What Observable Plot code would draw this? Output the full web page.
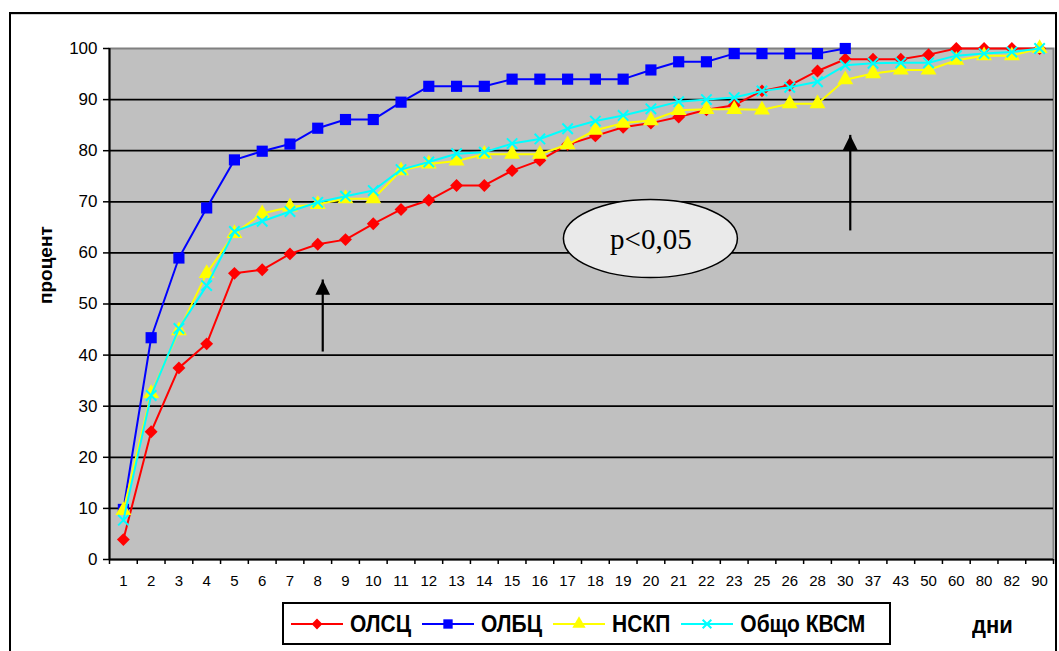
<!DOCTYPE html>
<html>
<head>
<meta charset="utf-8">
<script src="https://cdn.jsdelivr.net/npm/d3@7"></script>
<script src="https://cdn.jsdelivr.net/npm/@observablehq/plot@0.6"></script>
<style>
  body { margin: 0; background: #fff; font-family: "Liberation Sans", Arial, sans-serif; }
  #wrap { position: relative; width: 1059px; height: 651px; overflow: hidden; background: #fff; }
  #chart { position: absolute; left: 0; top: 0; }
  #outer { position: absolute; left: 9px; top: 12px; width: 1048px; height: 700px; border: 2px solid #000; box-sizing: border-box; pointer-events: none; }
  #outer2 { position: absolute; left: 11px; top: 14px; width: 1044px; height: 1px; background: #d0d0d0; }
  #legend { position: absolute; left: 282px; top: 602px; width: 609px; height: 43px; border: 2px solid #000; box-sizing: border-box; background: #fff; display: flex; align-items: center; padding-left: 7px; }
  #legend .item { display: flex; align-items: center; margin-right: 11px; }
  #legend svg { display: block; margin-right: 7px; }
  #legend span { font-weight: bold; font-size: 21px; color: #000; display: inline-block; transform: scaleY(1.1); }
  #xname { position: absolute; left: 972px; top: 613px; font-weight: bold; font-size: 22px; transform: scaleY(1.05); }
</style>
</head>
<body>
<div id="wrap">
  <div id="chart"></div>
  <div id="outer"></div>
  <div id="outer2"></div>
  <div id="legend"></div>
  <div id="xname"></div>
</div>
<script>
// ---- data ----
const days = ["1","2","3","4","5","6","7","8","9","10","11","12","13","14","15","16","17","18","19","20","21","22","23","25","26","28","30","37","43","50","60","80","82","90"];
const olsc   = [3.9, 25.0, 37.5, 42.2, 56.0, 56.7, 59.8, 61.7, 62.6, 65.7, 68.5, 70.3, 73.2, 73.2, 76.1, 78.1, 81.2, 82.9, 84.6, 85.4, 86.6, 88.0, 88.9, 91.7, 92.8, 95.6, 97.9, 97.9, 97.9, 98.8, 100, 100, 100, 100];
const olbc   = [9.8, 43.4, 59.0, 68.8, 78.2, 79.9, 81.3, 84.4, 86.1, 86.1, 89.5, 92.6, 92.6, 92.6, 94.0, 94.0, 94.0, 94.0, 94.0, 95.8, 97.4, 97.4, 99.0, 99.0, 99.0, 99.0, 100];
const nskp   = [9.6, 32.5, 44.8, 56.0, 63.8, 67.7, 69.0, 69.5, 70.6, 70.6, 76.1, 77.4, 78.0, 79.3, 79.3, 79.3, 81.2, 84.0, 85.4, 85.9, 87.9, 88.1, 88.1, 88.0, 89.2, 89.2, 93.9, 95.1, 95.8, 95.8, 97.7, 98.6, 98.6, 100];
const obshto = [7.7, 32.1, 45.2, 53.6, 64.2, 66.2, 68.1, 69.9, 71.1, 72.2, 76.3, 77.8, 79.4, 79.7, 81.4, 82.3, 84.3, 85.8, 86.9, 88.2, 89.6, 90.0, 90.4, 91.7, 92.4, 93.5, 96.7, 97.1, 97.2, 97.2, 98.6, 99.0, 99.3, 100];
const seriesNames  = ["ОЛСЦ", "ОЛБЦ", "НСКП", "Общо КВСМ"];
const seriesColors = ["#ff0000", "#0000ff", "#ffff00", "#00ffff"];
const yTicks = [0, 10, 20, 30, 40, 50, 60, 70, 80, 90, 100];
const gridTicks = [10, 20, 30, 40, 50, 60, 70, 80, 90];
const yLabel = "процент";
const xLabel = "дни";
const pText = "p<0,05";
const pDay = "20";
const pValue = 62.7;
const arrowDays = ["8", "30"];
const arrowFrom = [40.6, 64.3];
const arrowTo   = [54.7, 83.0];

// ---- build ----
const seriesValues = [olsc, olbc, nskp, obshto];
const rowsOf = vals => vals.map((v, i) => ({day: days[i], v}));
const arrows = arrowDays.map((d, i) => ({day: d, from: arrowFrom[i], to: arrowTo[i]}));

const W = 1059, H = 600, ML = 109, MR = 6, MT = 48, MB = 41;
const step = (W - ML - MR) / days.length;

// custom arrow-head symbol: tip at the anchor point, pointing up
const headSymbol = { draw(ctx, size) { const w = Math.sqrt(size); ctx.moveTo(0, 0); ctx.lineTo(w / 2, w); ctx.lineTo(-w / 2, w); ctx.closePath(); } };

const symbolSpec = [
  {symbol: "diamond2", r: 5.8, fill: seriesColors[0], stroke: "none"},
  {symbol: "square", r: 6.3, fill: seriesColors[1], stroke: "none"},
  {symbol: "triangle", r: 5.9, fill: seriesColors[2], stroke: "none"},
  {symbol: "times", r: 4.8, fill: "none", stroke: seriesColors[3], strokeWidth: 2}
];

const seriesMarks = [];
seriesValues.forEach((vals, i) => {
  const rows = rowsOf(vals);
  seriesMarks.push(Plot.line(rows, {x: "day", y: "v", stroke: seriesColors[i], strokeWidth: 2}));
  const s = symbolSpec[i];
  seriesMarks.push(Plot.dot(rows, {x: "day", y: "v", symbol: s.symbol, r: s.r, fill: s.fill, stroke: s.stroke, strokeWidth: s.strokeWidth || 1}));
});

const ellipseMark = (index, scales) => {
  const e = d3.create("svg:ellipse")
    .attr("cx", scales.x(pDay))
    .attr("cy", scales.y(pValue))
    .attr("rx", 87).attr("ry", 39)
    .attr("fill", "#eaeaea").attr("stroke", "#000").attr("stroke-width", 1.5);
  return e.node();
};

const chart = Plot.plot({
  width: W, height: H,
  marginLeft: ML, marginRight: MR, marginTop: MT, marginBottom: MB,
  style: {background: "transparent", fontFamily: "'Liberation Sans', Arial, sans-serif", color: "#000", overflow: "visible"},
  x: {type: "point", domain: days, padding: 0.5, round: false},
  y: {domain: [0, 100]},
  marks: [
    Plot.frame({fill: "#c0c0c0", stroke: "#808080", strokeWidth: 2}),
    Plot.gridY(gridTicks, {stroke: "#000", strokeOpacity: 1, strokeWidth: 1.8}),
    Plot.ruleY([0], {stroke: "#000", strokeWidth: 2}),
    Plot.ruleX([days[0]], {dx: -step / 2, stroke: "#000", strokeWidth: 2}),
    Plot.axisY({ticks: yTicks, tickSize: 6, tickPadding: 6, fontSize: 17, label: null, stroke: "#000", strokeWidth: 1.5}),
    Plot.axisX({ticks: days, tickSize: 5, dx: -step / 2, tickFormat: () => "", label: null, stroke: "#000", strokeWidth: 1.5}),
    Plot.axisX({ticks: [days[days.length - 1]], tickSize: 5, dx: step / 2, tickFormat: () => "", label: null, stroke: "#000", strokeWidth: 1.5}),
    Plot.axisX({ticks: days, tickSize: 0, tickPadding: 16, fontSize: 15, label: null}),
    Plot.text([yLabel], {frameAnchor: "left", dx: -64, rotate: -90, text: d => d, fontWeight: "bold", fontSize: 19, fill: "#000"}),
    ellipseMark,
    Plot.text([pText], {x: [pDay], y: [pValue], text: d => d, fontFamily: "'Liberation Serif', 'Times New Roman', serif", fontSize: 29, fill: "#000", dy: 1}),
    Plot.ruleX(arrows, {x: "day", y1: "from", y2: "to", dx: 5, stroke: "#000", strokeWidth: 2.2}),
    Plot.dot(arrows, {x: "day", y: "to", dx: 5, symbol: headSymbol, r: 8.3, fill: "#000", stroke: "none"}),
    ...seriesMarks
  ]
});
document.getElementById("chart").appendChild(chart);

// ---- legend ----
const legend = d3.select("#legend");
const legendSym = [d3.symbolDiamond2, d3.symbolSquare, d3.symbolTriangle, d3.symbolTimes];
seriesNames.forEach((name, i) => {
  const item = legend.append("div").attr("class", "item");
  const svg = item.append("svg").attr("width", 52).attr("height", 20);
  svg.append("line").attr("x1", 0).attr("x2", 52).attr("y1", 10).attr("y2", 10)
    .attr("stroke", seriesColors[i]).attr("stroke-width", 2);
  const s = symbolSpec[i];
  svg.append("path").attr("transform", "translate(26,10)")
    .attr("d", d3.symbol(legendSym[i], Math.PI * s.r * s.r * 0.7)())
    .attr("fill", s.fill).attr("stroke", s.stroke).attr("stroke-width", s.strokeWidth || 1);
  item.append("span").text(name);
});
document.getElementById("xname").textContent = xLabel;
</script>
</body>
</html>
